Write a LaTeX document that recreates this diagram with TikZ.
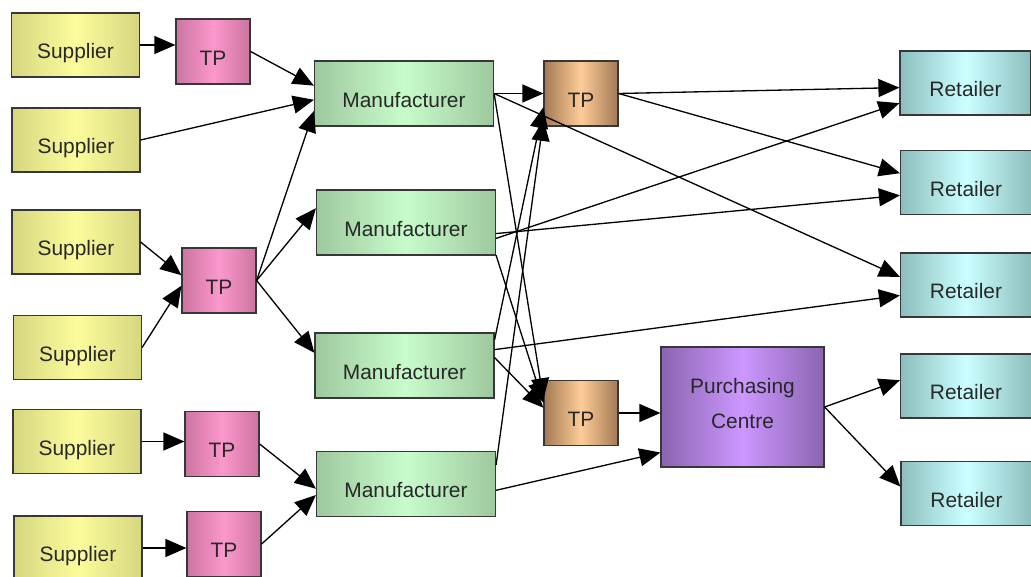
\documentclass[tikz,border=0pt]{standalone}
\usepackage{fontspec}
\setmainfont{Liberation Sans}
\usetikzlibrary{arrows.meta,positioning}

\definecolor{suppedge}{RGB}{214,214,128}
\definecolor{suppmid}{RGB}{252,252,156}
\definecolor{pinkedge}{RGB}{204,116,160}
\definecolor{pinkmid}{RGB}{252,152,204}
\definecolor{manuedge}{RGB}{158,200,158}
\definecolor{manumid}{RGB}{200,252,204}
\definecolor{tanedge}{RGB}{162,122,84}
\definecolor{tanmid}{RGB}{255,204,152}
\definecolor{purpedge}{RGB}{138,100,176}
\definecolor{purpmid}{RGB}{204,152,255}
\definecolor{retedge}{RGB}{140,190,190}
\definecolor{retmid}{RGB}{204,255,255}
\definecolor{boxline}{RGB}{55,55,55}
\definecolor{labeltext}{RGB}{40,40,40}

\begin{document}
\begin{tikzpicture}[x=0.02cm,y=-0.02cm]
				% one pixel of the original is one unit here
				\tikzset{box/.style={draw=boxline,line width=0.7pt,inner sep=0pt,text=labeltext,
						font=\fontsize{11.9}{20}\selectfont,align=center},
					% single line labels sit a little low in their boxes
					low/.style={text height=15.5pt,text depth=0pt},
					supp/.style={box,low,minimum width=2.56cm,minimum height=1.28cm,left color=suppedge,right color=suppedge,middle color=suppmid},
					tpbox/.style={box,low,minimum width=1.48cm,minimum height=1.3cm,left color=pinkedge,right color=pinkedge,middle color=pinkmid},
					manu/.style={box,low,minimum width=3.58cm,minimum height=1.3cm,left color=manuedge,right color=manuedge,middle color=manumid},
					tpbrown/.style={box,low,minimum width=1.48cm,minimum height=1.3cm,left color=tanedge,right color=tanedge,middle color=tanmid},
					purch/.style={box,minimum width=3.26cm,minimum height=2.4cm,left color=purpedge,right color=purpedge,middle color=purpmid},
					retail/.style={box,low,minimum width=2.62cm,minimum height=1.28cm,left color=retedge,right color=retedge,middle color=retmid},
					flow/.style={line width=0.75pt,-{Triangle[length=0.42cm,width=0.36cm]}},
				}
				\useasboundingbox (0,0) rectangle (1031,577);
				% suppliers down the left side
				\node[supp] (s1) at (75.5,45) {Supplier};
				\node[supp] (s2) at (76,140) {Supplier};
				\node[supp] (s3) at (76,242) {Supplier};
				\node[supp] (s4) at (77.5,347.5) {Supplier};
				\node[supp] (s5) at (77,441.5) {Supplier};
				\node[supp] (s6) at (78,548) {Supplier};
				% first ring of TPs
				\node[tpbox] (tp1) at (213,51.5) {TP};
				\node[tpbox] (tp2) at (219,280.5) {TP};
				\node[tpbox] (tp3) at (222,444) {TP};
				\node[tpbox] (tp4) at (224,544) {TP};
				% manufacturers
				\node[manu] (m1) at (404,93.5) {Manufacturer};
				\node[manu] (m2) at (406,222.5) {Manufacturer};
				\node[manu] (m3) at (404.5,365.5) {Manufacturer};
				\node[manu] (m4) at (406,484) {Manufacturer};
				% second ring of TPs and the purchasing centre
				\node[tpbrown] (tpa) at (581,93.5) {TP};
				\node[tpbrown] (tpb) at (581,413) {TP};
				\node[purch] (pc) at (742.5,407) {Purchasing\\Centre\\[-16pt]};
				% retailers on the right, they run off the page edge
				\node[retail] (r1) at (965.5,83) {Retailer};
				\node[retail] (r2) at (966,182.5) {Retailer};
				\node[retail] (r3) at (966,285) {Retailer};
				\node[retail] (r4) at (966,386) {Retailer};
				\node[retail] (r5) at (966.5,493.5) {Retailer};
				% supplier side
				\draw (s1.east) edge[flow] (s1.east -| tp1.west);
				\draw (s2.east) edge[flow] (m1.184);
				\draw (tp1.east) edge[flow] (m1.175);
				\draw (s3.east) edge[flow] (tp2.172);
				\draw (s4.east) edge[flow] (tp2.188);
				\draw (tp2.east) edge[flow] (m1.191);
				\draw (tp2.east) edge[flow] (m2.171);
				\draw (tp2.east) edge[flow] (m3.172);
				\draw (s5.east) edge[flow] (s5.east -| tp3.west);
				\draw (s6.east) edge[flow] (s6.east -| tp4.west);
				\draw (tp3.east) edge[flow] (m4.183);
				\draw (tp4.east) edge[flow] (m4.187);
				% manufacturers out to the TPs, centre and retailers
				\draw (m1.east) edge[flow] (tpa.west);
				\draw (m1.east) edge[flow] (r3.173);
				\draw (m1.east) edge[flow] (tpb.160);
				\draw (m2.-7) edge[flow] (r2.191);
				\draw (m2.-10) edge[flow] (r1.197);
				\draw (m2.-20) edge[flow] (tpb.165);
				\draw (m3.16) edge[flow] (tpa.200);
				\draw (m3.10) edge[flow] (r3.189);
				\draw (m3.5) edge[flow] (tpb.172);
				\draw (m4.12) edge[flow] (tpa.215);
				\draw (m4.-4) edge[flow] (pc.209);
				\draw (tpa.east) edge[flow] (r1.184);
				\draw (tpa.east) edge[flow] (r2.172);
				\draw (tpb.east) edge[flow] (tpb.east -| pc.west);
				\draw (pc.east) edge[flow] (r4.175);
				\draw (pc.east) edge[flow] (r5.174);
			\end{tikzpicture}
\end{document}
